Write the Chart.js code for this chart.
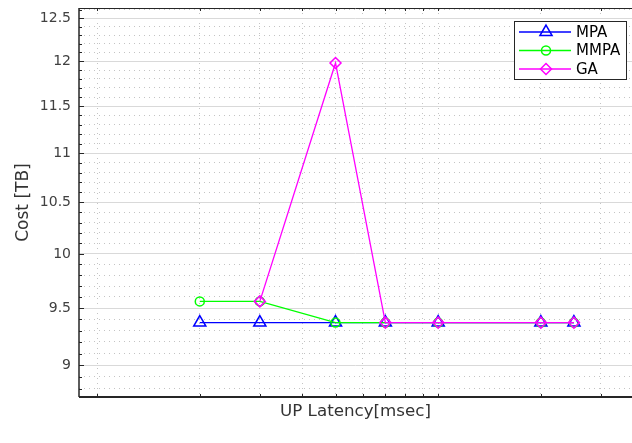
<!DOCTYPE html>
<html>
<head>
<meta charset="utf-8">
<title>Cost vs UP Latency</title>
<script src="https://cdn.jsdelivr.net/npm/chart.js@4.4.1/dist/chart.umd.min.js"></script>
<style>
    html, body { margin: 0; padding: 0; background: #fff; }
    #wrap { width: 632px; height: 443px; }
</style>
</head>
<body>
<div id="wrap"><canvas id="cost-chart" width="632" height="443"></canvas></div>
<script>
// values (log-log axes)
const latency = [2, 3, 5, 7, 10, 20, 25];
const mpaCost = [9.37, 9.37, 9.37, 9.37, 9.37, 9.37, 9.37];
const mmpaCost = [9.56, 9.56, 9.37, 9.37, 9.37, 9.37, 9.37];
const gaCost = [null, 9.56, 11.98, 9.37, 9.37, 9.37, 9.37];

const seriesNames = ['MPA', 'MMPA', 'GA'];
const seriesColors = ['#0000ff', '#00ff00', '#ff00ff'];
const seriesMarkers = ['triangle', 'circle', 'rectRot'];
const markerSizes = [7, 4.5, 5.5];

const yLabelTicks = [9, 9.5, 10, 10.5, 11, 11.5, 12, 12.5];
const yGridTicks = [8.8, 8.9, 9, 9.1, 9.2, 9.3, 9.4, 9.5, 9.6, 9.7, 9.8, 9.9,
    10, 10.1, 10.2, 10.3, 10.4, 10.5, 10.6, 10.7, 10.8, 10.9,
    11, 11.1, 11.2, 11.3, 11.4, 11.5, 11.6, 11.7, 11.8, 11.9,
    12, 12.1, 12.2, 12.3, 12.4, 12.5, 12.6];
const xGridTicks = [1, 2, 3, 4, 5, 6, 7, 8, 9, 10, 20, 30];

const FONT = 'DejaVu Sans';

function isLabelTick(v) {
    return yLabelTicks.some(t => Math.abs(t - v) < 1e-6);
}

function toPoints(ys) {
    return latency.map((x, i) => ({ x: x, y: ys[i] }));
}

function markerPath(ctx, style, x, y, r) {
    ctx.beginPath();
    if (style === 'triangle') {
        ctx.moveTo(x, y - r);
        ctx.lineTo(x + r * Math.sin(2 * Math.PI / 3), y + r / 2);
        ctx.lineTo(x - r * Math.sin(2 * Math.PI / 3), y + r / 2);
        ctx.closePath();
    } else if (style === 'circle') {
        ctx.arc(x, y, r, 0, Math.PI * 2);
    } else {
        ctx.moveTo(x - r, y);
        ctx.lineTo(x, y - r);
        ctx.lineTo(x + r, y);
        ctx.lineTo(x, y + r);
        ctx.closePath();
    }
}

// axes box, inward ticks and the boxed legend
const framePlugin = {
    id: 'frame',
    afterDraw(chart) {
        const ctx = chart.ctx;
        const a = chart.chartArea;
        const xs = chart.scales.x;
        const ys = chart.scales.y;
        ctx.save();
        ctx.strokeStyle = '#262626';

        ctx.lineWidth = 1;
        ctx.beginPath();
        ctx.moveTo(a.left, a.top + 0.5);
        ctx.lineTo(a.right, a.top + 0.5);
        ctx.stroke();

        ctx.lineWidth = 1.5;
        ctx.beginPath();
        ctx.moveTo(a.left, a.top);
        ctx.lineTo(a.left, a.bottom);
        ctx.stroke();

        ctx.lineWidth = 2;
        ctx.beginPath();
        ctx.moveTo(a.left, a.bottom);
        ctx.lineTo(a.right, a.bottom);
        ctx.stroke();

        ctx.lineWidth = 1;
        ctx.beginPath();
        yGridTicks.forEach(v => {
            const py = Math.round(ys.getPixelForValue(v)) + 0.5;
            const len = isLabelTick(v) ? 5 : 3;
            ctx.moveTo(a.left, py);
            ctx.lineTo(a.left + len, py);
        });
        xGridTicks.forEach(v => {
            const px = Math.round(xs.getPixelForValue(v)) + 0.5;
            ctx.moveTo(px, a.bottom);
            ctx.lineTo(px, a.bottom - 3);
            ctx.moveTo(px, a.top);
            ctx.lineTo(px, a.top + 3);
        });
        ctx.stroke();

        // legend
        const box = { left: 514.5, top: 21.5, width: 112, height: 58 };
        const rowY = [32, 50.5, 69];
        ctx.fillStyle = '#fff';
        ctx.fillRect(box.left, box.top, box.width, box.height);
        ctx.lineWidth = 1;
        ctx.strokeStyle = '#262626';
        ctx.strokeRect(box.left, box.top, box.width, box.height);

        ctx.font = '15px "' + FONT + '"';
        ctx.textBaseline = 'middle';
        ctx.textAlign = 'left';
        seriesNames.forEach((name, i) => {
            const y = rowY[i];
            ctx.strokeStyle = seriesColors[i];
            ctx.lineWidth = 1.3;
            ctx.beginPath();
            ctx.moveTo(519, y);
            ctx.lineTo(571, y);
            ctx.stroke();
            ctx.lineWidth = 1.5;
            markerPath(ctx, seriesMarkers[i], 546, y, markerSizes[i]);
            ctx.stroke();
            ctx.fillStyle = '#000';
            ctx.fillText(name, 576, y + 1);
        });
        ctx.restore();
    }
};

function makeDataset(i, values) {
    return {
        label: seriesNames[i],
        data: toPoints(values),
        borderColor: seriesColors[i],
        backgroundColor: 'rgba(0,0,0,0)',
        borderWidth: 1.3,
        pointStyle: seriesMarkers[i],
        pointRadius: markerSizes[i],
        pointBorderWidth: 1.5,
        pointBorderColor: seriesColors[i],
        pointBackgroundColor: 'rgba(0,0,0,0)',
        tension: 0,
        fill: false,
        order: 3 - i
    };
}

new Chart(document.getElementById('cost-chart'), {
    type: 'line',
    data: {
        datasets: [
            makeDataset(0, mpaCost),
            makeDataset(1, mmpaCost),
            makeDataset(2, gaCost)
        ]
    },
    options: {
        responsive: false,
        animation: false,
        layout: { autoPadding: false, padding: { top: 8, right: 0, left: 0, bottom: 0 } },
        plugins: {
            legend: { display: false },
            tooltip: { enabled: false }
        },
        scales: {
            x: {
                type: 'logarithmic',
                min: 0.885,
                max: 37,
                bounds: 'data',
                afterBuildTicks: s => { s.ticks = xGridTicks.map(v => ({ value: v })); },
                afterFit: s => {
                    s.height = 46;
                    s.paddingLeft = 0;
                    s.paddingRight = 0;
                },
                ticks: { display: false },
                grid: { drawTicks: false, color: '#c4c4c4', lineWidth: 1 },
                border: { display: false, dash: [1, 4] },
                title: {
                    display: true,
                    text: 'UP Latency[msec]',
                    color: '#333333',
                    font: { family: FONT, size: 16.7 },
                    padding: { top: 0, bottom: 21 }
                }
            },
            y: {
                type: 'logarithmic',
                min: 8.733,
                max: 12.62,
                bounds: 'data',
                afterBuildTicks: s => { s.ticks = yGridTicks.map(v => ({ value: v })); },
                afterFit: s => {
                    s.width = 79;
                    s.paddingTop = 0;
                    s.paddingBottom = 0;
                },
                ticks: {
                    autoSkip: false,
                    padding: 8,
                    color: '#404040',
                    font: { family: FONT, size: 14 },
                    callback: v => isLabelTick(v) ? String(v) : ''
                },
                grid: {
                    drawTicks: false,
                    lineWidth: 1,
                    color: c => (c.tick && isLabelTick(c.tick.value)) ? '#d9d9d9' : '#c4c4c4'
                },
                border: {
                    display: false,
                    dash: c => (c.tick && isLabelTick(c.tick.value)) ? [] : [1, 4]
                },
                title: {
                    display: true,
                    text: 'Cost [TB]',
                    color: '#333333',
                    font: { family: FONT, size: 17 },
                    padding: { top: 13, bottom: 0 }
                }
            }
        }
    },
    plugins: [framePlugin]
});
</script>
</body>
</html>
